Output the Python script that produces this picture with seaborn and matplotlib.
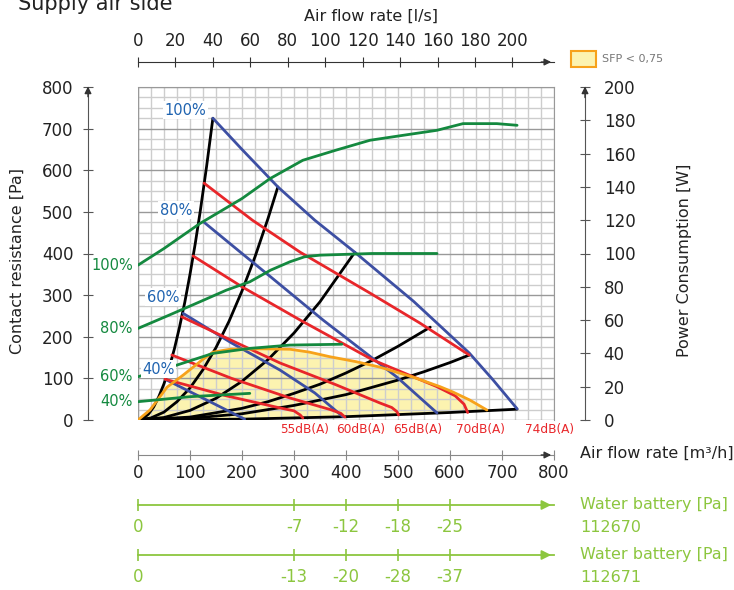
import matplotlib.pyplot as plt
import seaborn as sns
from matplotlib.patches import Rectangle
from matplotlib.ticker import MultipleLocator

sns.set_style('white')
plt.rcParams['font.family'] = ['DejaVu Sans']

# DATA  (air flow m3/h, pressure Pa, power W)
## system curves (black)
sys1_q = [0, 10, 20, 30, 40, 50, 60, 70, 80, 90, 100, 110, 120, 132, 144]
sys1_p = [0, 4, 14, 31, 56, 87, 126, 171, 224, 283, 350, 423, 504, 610, 725]
sys2_q = [0, 25, 50, 75, 100, 125, 150, 175, 200, 225, 250, 269]
sys2_p = [0, 5, 19, 44, 77, 121, 174, 237, 310, 392, 484, 560]
sys3_q = [0, 50, 100, 150, 200, 250, 300, 350, 417]
sys3_p = [0, 6, 23, 52, 93, 145, 209, 284, 403]
sys4_q = [0, 100, 200, 250, 300, 350, 400, 450, 500, 562]
sys4_p = [0, 7, 28, 44, 64, 86, 113, 143, 177, 223]
sys5_q = [0, 100, 200, 300, 400, 500, 550, 600, 637]
sys5_p = [0, 4, 15, 35, 61, 96, 116, 138, 156]
sys6_q = [0, 200, 400, 600, 729]
sys6_p = [0, 2, 8, 18, 26]

## fan curves (blue)
fan100_q = [144, 200, 269, 340, 417, 530, 637, 683, 729]
fan100_p = [725, 650, 560, 480, 403, 285, 161, 96, 27]
fan80_q = [127, 200, 254, 356, 498, 575]
fan80_p = [475, 400, 345, 240, 103, 17]
fan60_q = [87, 180, 273, 340, 394]
fan60_p = [256, 185, 120, 65, 8]
fan40_q = [52, 132, 205]
fan40_p = [98, 48, 2]

## sound level curves (red)
db74_q = [127, 220, 312, 446, 542, 637]
db74_p = [569, 480, 403, 305, 233, 156]
db70_q = [106, 200, 312, 452, 575, 610, 627, 634]
db70_p = [394, 320, 240, 144, 80, 58, 38, 18]
db65_q = [84, 182, 273, 380, 465, 488, 498, 501]
db65_p = [248, 190, 137, 85, 41, 30, 20, 12]
db60_q = [65, 180, 292, 370, 390, 398]
db60_p = [156, 100, 53, 25, 16, 7]
db55_q = [52, 170, 273, 300, 312, 317]
db55_p = [98, 58, 29, 22, 12, 5]

## SFP < 0,75 border (orange)
sfp_q = [0, 23, 56, 87, 123, 144, 177, 240, 292, 330, 369, 420, 465, 529, 581, 606, 638, 671]
sfp_p = [0, 24, 79, 108, 144, 163, 170, 171, 170, 163, 152, 140, 127, 103, 80, 67, 48, 24]

## power consumption (green, W)
pow100_q = [0, 50, 119, 200, 254, 317, 380, 446, 510, 575, 625, 690, 729]
pow100_w = [93, 103, 118, 133, 145, 156, 162, 168, 171, 174, 178, 178, 177]
pow80_q = [0, 60, 119, 170, 215, 255, 292, 320, 350, 450, 575]
pow80_w = [55, 63, 71, 78, 83, 90, 95, 98, 99, 100, 100]
pow60_q = [0, 75, 144, 215, 292, 392]
pow60_w = [26, 33, 40, 43, 45, 45.5]
pow40_q = [0, 100, 215]
pow40_w = [11, 14, 16]

## water battery pressure drop
wb_q = [0, 300, 400, 500, 600]
wb112670 = ['0', '-7', '-12', '-18', '-25']
wb112671 = ['0', '-13', '-20', '-28', '-37']

db_labels = ['55dB(A)', '60dB(A)', '65dB(A)', '70dB(A)', '74dB(A)']
pct_labels = ['100%', '80%', '60%', '40%']

# COLOURS
c_blue = '#3d4fa3'
c_blue_txt = '#1f63b0'
c_red = '#e8262a'
c_green = '#14893f'
c_orange = '#f7a21b'
c_yellow = '#fcf3b0'
c_lgreen = '#8cc63f'
c_text = '#222222'

W, H = 734, 590
fig = plt.figure(figsize=(W / 100, H / 100), dpi=100)
ax = fig.add_axes([138 / W, 1 - 420 / H, 416 / W, 333 / H])

# grid
ax.xaxis.set_major_locator(MultipleLocator(100))
ax.yaxis.set_major_locator(MultipleLocator(100))
ax.xaxis.set_minor_locator(MultipleLocator(25))
ax.yaxis.set_minor_locator(MultipleLocator(25))
ax.grid(which='minor', color='#cdcdcd', lw=1)
ax.grid(which='major', axis='x', color='#cdcdcd', lw=1)
ax.grid(which='major', axis='y', color='#999999', lw=1)
ax.set_axisbelow(True)
ax.tick_params(which='minor', length=0)
ax.axvline(0, color='#999999', lw=1, zorder=0.6)

# yellow SFP area (orange border + bottom system curve back to origin)
fill_q = sfp_q + [q for q in sys6_q[::-1] if q < sfp_q[-1]]
fill_p = sfp_p + [p for q, p in zip(sys6_q[::-1], sys6_p[::-1]) if q < sfp_q[-1]]
ax.fill(fill_q, fill_p, color=c_yellow, zorder=0.3, lw=0)

lw = 2.0
for q, p in [(sys1_q, sys1_p), (sys2_q, sys2_p), (sys3_q, sys3_p),
             (sys4_q, sys4_p), (sys5_q, sys5_p), (sys6_q, sys6_p)]:
    sns.lineplot(x=q, y=p, ax=ax, color='black', lw=lw, sort=False, estimator=None, zorder=2)
for q, p in [(fan100_q, fan100_p), (fan80_q, fan80_p), (fan60_q, fan60_p), (fan40_q, fan40_p)]:
    sns.lineplot(x=q, y=p, ax=ax, color=c_blue, lw=lw, sort=False, estimator=None, zorder=3)
for q, p in [(db74_q, db74_p), (db70_q, db70_p), (db65_q, db65_p), (db60_q, db60_p), (db55_q, db55_p)]:
    sns.lineplot(x=q, y=p, ax=ax, color=c_red, lw=lw, sort=False, estimator=None, zorder=4)
sns.lineplot(x=sfp_q, y=sfp_p, ax=ax, color=c_orange, lw=lw, sort=False, estimator=None, zorder=5)

ax.set_xlim(0, 800)
ax.set_ylim(0, 800)
ax.set_xlabel('')
ax.set_ylabel('')

# left axis (pressure) and bottom axis (m3/h)
ax.spines['left'].set_position(('outward', 50 * 0.72))
ax.spines['left'].set_color('#555555')
ax.spines['bottom'].set_position(('outward', 35 * 0.72))
ax.spines['bottom'].set_color('#888888')
ax.spines['top'].set_color('#999999')
ax.spines['right'].set_color('#999999')
ax.tick_params(axis='y', which='major', left=True, direction='inout', length=7, color='#555555',
               labelcolor=c_text, labelsize=12, pad=7)
ax.tick_params(axis='x', which='major', bottom=True, direction='inout', length=7, color='#888888',
               labelcolor=c_text, labelsize=12, pad=3)

tl = ax.spines['left'].get_spine_transform()
ax.annotate('', xy=(0, 808), xytext=(0, 770), xycoords=tl, textcoords=tl,
            arrowprops=dict(arrowstyle='-|>', color='#333333', lw=1, mutation_scale=10),
            annotation_clip=False)
tb = ax.spines['bottom'].get_spine_transform()
ax.annotate('', xy=(800, 0), xytext=(770, 0), xycoords=tb, textcoords=tb,
            arrowprops=dict(arrowstyle='-|>', color='#333333', lw=1, mutation_scale=10),
            annotation_clip=False)

# top axis (l/s)
sec = ax.secondary_xaxis(1.075, functions=(lambda q: q / 3.6, lambda l: l * 3.6))
sec.set_xticks(range(0, 201, 20))
sec.spines['top'].set_color('#333333')
sec.tick_params(top=True, direction='inout', length=7, color='#333333', labelcolor=c_text,
                labelsize=12, pad=5)
tt = ax.get_xaxis_transform()
ax.annotate('', xy=(800, 1.075), xytext=(770, 1.075), xycoords=tt, textcoords=tt,
            arrowprops=dict(arrowstyle='-|>', color='#333333', lw=1, mutation_scale=10),
            annotation_clip=False)

# right axis (power)
ax2 = ax.twinx()
for q, w in [(pow100_q, pow100_w), (pow80_q, pow80_w), (pow60_q, pow60_w), (pow40_q, pow40_w)]:
    sns.lineplot(x=q, y=w, ax=ax2, color=c_green, lw=lw, sort=False, estimator=None, zorder=6)
ax2.set_xlim(0, 800)
ax2.set_ylim(0, 200)
ax2.set_ylabel('')
ax2.grid(False)
ax2.set_yticks(range(0, 201, 20))
for s in ['top', 'left', 'bottom']:
    ax2.spines[s].set_visible(False)
ax2.spines['right'].set_position(('outward', 31 * 0.72))
ax2.spines['right'].set_color('#555555')
ax2.tick_params(axis='y', right=True, direction='inout', length=7, color='#555555',
                labelcolor=c_text, labelsize=12, pad=10)
tr = ax2.spines['right'].get_spine_transform()
ax2.annotate('', xy=(1, 202), xytext=(1, 192), xycoords=tr, textcoords=tr,
             arrowprops=dict(arrowstyle='-|>', color='#333333', lw=1, mutation_scale=10),
             annotation_clip=False)

# curve labels
blue_pos = [(91, 744), (73, 504), (48, 295), (40, 122)]
for txt, (q, p) in zip(pct_labels, blue_pos):
    fig.text(q, p, txt, transform=ax.transData, ha='center', va='center', color=c_blue_txt,
             fontsize=10.5, bbox=dict(facecolor='white', edgecolor='none', pad=1), zorder=10)
for txt, w in zip(pct_labels, [pow100_w[0], pow80_w[0], pow60_w[0], pow40_w[0]]):
    fig.text(-10, w, txt, transform=ax2.transData, ha='right', va='center', color=c_green,
             fontsize=10.5, zorder=10)
for txt, q in zip(db_labels, [321, 429, 538, 658, 792]):
    fig.text(q, -24, txt, transform=ax.transData, ha='center', va='center', color=c_red,
             fontsize=8.7, zorder=10)

# water battery scales
for ypx, labels, name in [(505, wb112670, '112670'), (555, wb112671, '112671')]:
    axw = fig.add_axes([138 / W, 1 - ypx / H, 416 / W, 0.0001])
    axw.set_xlim(0, 800)
    axw.set_ylim(0, 1)
    axw.patch.set_visible(False)
    axw.set_yticks([])
    for s in ['top', 'left', 'right']:
        axw.spines[s].set_visible(False)
    axw.spines['bottom'].set_color(c_lgreen)
    axw.spines['bottom'].set_linewidth(1.3)
    axw.set_xticks(wb_q)
    axw.set_xticklabels(labels)
    axw.tick_params(axis='x', bottom=True, direction='inout', length=8, color=c_lgreen, width=1.2,
                    labelcolor=c_lgreen, labelsize=12, pad=5)
    axw.annotate('', xy=(800, 0), xytext=(770, 0),
                 arrowprops=dict(arrowstyle='-|>', color=c_lgreen, lw=1.3, mutation_scale=14),
                 annotation_clip=False)
    fig.text(580 / W, 1 - ypx / H, 'Water battery [Pa]', color=c_lgreen, fontsize=11.5, va='center')
    fig.text(580 / W, 1 - (ypx + 22) / H, name, color=c_lgreen, fontsize=11.5, va='center')

# titles
fig.text(18 / W, 1 - 10 / H, 'Supply air side', fontsize=15, va='baseline', color=c_text)
fig.text(371 / W, 1 - 16 / H, 'Air flow rate [l/s]', fontsize=11.5, ha='center', va='center', color=c_text)
fig.text(580 / W, 1 - 453 / H, 'Air flow rate [m³/h]', fontsize=11.5, va='center', color=c_text)
fig.text(17 / W, 1 - 261 / H, 'Contact resistance [Pa]', fontsize=11.5, rotation=90,
         ha='center', va='center', color=c_text)
fig.text(685 / W, 1 - 260 / H, 'Power Consumption [W]', fontsize=11.5, rotation=90,
         ha='center', va='center', color=c_text)

# legend (SFP area)
fig.add_artist(Rectangle((571 / W, 1 - 67 / H), 25 / W, 16 / H, transform=fig.transFigure,
                         facecolor=c_yellow, edgecolor=c_orange, lw=1.5))
fig.text(602 / W, 1 - 59 / H, 'SFP < 0,75', fontsize=8, va='center', color='#777777')

fig.savefig('out.png', dpi=100)
